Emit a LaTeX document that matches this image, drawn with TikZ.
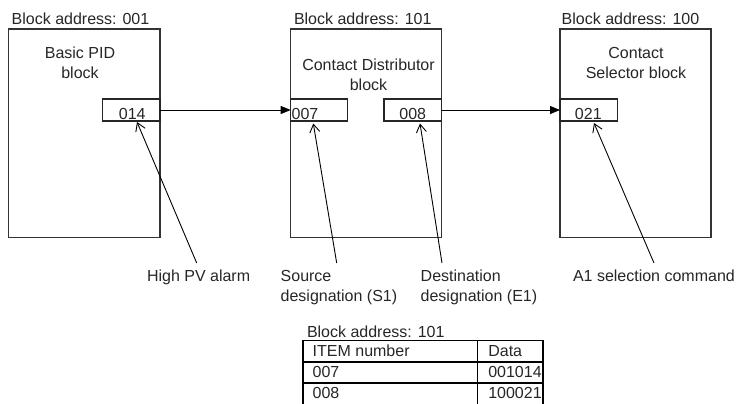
\documentclass[tikz,border=0pt]{standalone}
\usepackage{fontspec}
\setmainfont{Liberation Sans}
\usetikzlibrary{arrows.meta}
\begin{document}
\begin{tikzpicture}[x=1pt,y=-1pt,
  every node/.style={inner sep=0pt,outer sep=0pt},
  txt/.style={font=\fontsize{16pt}{20pt}\selectfont,text=black!85},
  blockbox/.style={draw=black!80,line width=1.1pt,minimum height=208.7pt},
  portbox/.style={draw=black!85,line width=1.1pt,minimum height=22pt},
  flow/.style={draw=black,line width=0.9pt,-{Triangle[length=10pt,width=8pt]}},
  pointer/.style={draw=black,line width=0.9pt,-{Straight Barb[length=8pt,width=10pt]}},
  tline/.style={draw=black,line width=1.8pt}]
\useasboundingbox (0,0) rectangle (736,404);
% blocks
\node[blockbox,minimum width=151.7pt] (b1) at (84.15,133.35) {};
\node[blockbox,minimum width=150.6pt] (b2) at (366,133.35) {};
\node[blockbox,minimum width=151pt] (b3) at (635.5,133.35) {};
% block addresses
\node[txt,anchor=base west] (a1) at (11.7,25) {Block address: 001};
\node[txt,anchor=base west] (a2) at (294,25) {Block address: 101};
\node[txt,anchor=base west] (a3) at (561.7,25) {Block address: 100};
% block titles (base = last line)
\node[txt,anchor=base,align=center] (n1) at (80,78.3) {Basic PID\\block};
\node[txt,anchor=base,align=center] (n2) at (368.5,90.5) {Contact Distributor\\block};
\node[txt,anchor=base,align=center] (n3) at (636,78.3) {Contact\\Selector block};
% ports
\node[portbox,minimum width=57.7pt] (p014) at (131.15,110) {};
\node[portbox,minimum width=57pt] (p007) at (319.2,110) {};
\node[portbox,minimum width=57.3pt] (p008) at (412.65,110) {};
\node[portbox,minimum width=57.3pt] (p021) at (588.65,110) {};
\node[txt,anchor=base] (t014) at (132.3,119) {014};
\node[txt,anchor=base west] (t007) at (291.7,119) {007};
\node[txt,anchor=base] (t008) at (412.7,119) {008};
\node[txt,anchor=base] (t021) at (588.3,119) {021};
% flows
\draw[flow] (p014.east) -- (p007.west);
\draw[flow] (p008.east) -- (p021.west);
% bottom labels
\node[txt,anchor=base west] (l1) at (147,281) {High PV alarm};
\node[txt,anchor=base west,align=left] (l2) at (280.7,301) {Source\\designation (S1)};
\node[txt,anchor=base west,align=left] (l3) at (420.7,301) {Destination\\designation (E1)};
\node[txt,anchor=base west] (l4) at (573,281) {A1 selection command};
% pointer lines
\coordinate (e1) at (196.7,263);
\coordinate (e2) at (336.7,263);
\coordinate (e3) at (442,263);
\coordinate (e4) at (654,263);
\coordinate (k1) at (137,122);
\coordinate (k2) at (313.3,123.5);
\coordinate (k3) at (420,123.5);
\coordinate (k4) at (594,123);
\draw[pointer] (e1) -- (k1);
\draw[pointer] (e2) -- (k2);
\draw[pointer] (e3) -- (k3);
\draw[pointer] (e4) -- (k4);
% table
\node[txt,anchor=base west] (ta) at (307,337.3) {Block address: 101};
\draw[tline] (303.3,404) -- (303.3,340.5) -- (543.3,340.5) -- (543.3,404);
\draw[tline] (303.3,361.9) -- (543.3,361.9);
\draw[tline] (303.3,382.7) -- (543.3,382.7);
\draw[tline] (477.5,340.5) -- (477.5,404);
\node[txt,anchor=base west] (h1) at (312.7,356.5) {ITEM number};
\node[txt,anchor=base west] (h2) at (488.3,356.5) {Data};
\node[txt,anchor=base west] (r1a) at (312.7,377.5) {007};
\node[txt,anchor=base west] (r1b) at (488.3,377.5) {001014};
\node[txt,anchor=base west] (r2a) at (312.7,398) {008};
\node[txt,anchor=base west] (r2b) at (488.3,398) {100021};
\end{tikzpicture}
\end{document}
